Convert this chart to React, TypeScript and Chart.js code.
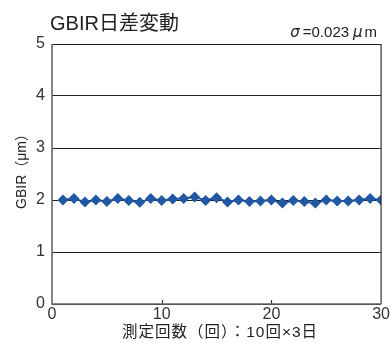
import React, { useEffect, useRef } from "react";
import { Chart, registerables } from "chart.js";

Chart.register(...registerables);

const runs = Array.from({ length: 30 }, (_, i) => i + 1);
const gbir = [
  2.0, 2.03, 1.96, 2.0, 1.97, 2.03, 1.99, 1.955, 2.03, 1.99,
  2.02, 2.03, 2.06, 1.99, 2.045, 1.96, 2.0, 1.97, 1.98, 2.0,
  1.94, 1.99, 1.97, 1.94, 2.0, 1.98, 1.98, 2.0, 2.03, 2.0,
];
const xTicks = [0, 10, 20, 30];
const titleText = "GBIR日差変動";
const sigmaText = "=0.023";
const yTitle = "GBIR（μm）";
const xTitle = "測定回数（回）：10回×3日";

const LATIN = "'Liberation Sans', 'Noto Sans CJK JP', sans-serif";

const textPlugin = {
  id: "texts",
  afterDraw(chart: any) {
    const { ctx, chartArea } = chart;
    const { left, right, top, bottom } = chartArea;
    ctx.save();
    // right border and inward x ticks
    ctx.strokeStyle = "#333";
    ctx.lineWidth = 1.2;
    ctx.beginPath();
    ctx.moveTo(right, top);
    ctx.lineTo(right, bottom);
    ctx.stroke();
    const xs = chart.scales.x;
    for (const t of [10, 20]) {
      const px = Math.round(xs.getPixelForValue(t)) + 0.5;
      ctx.beginPath();
      ctx.moveTo(px, bottom);
      ctx.lineTo(px, bottom - 4);
      ctx.stroke();
    }
    // left/bottom axis lines
    ctx.strokeStyle = "#666";
    ctx.lineWidth = 1.6;
    ctx.beginPath();
    ctx.moveTo(left, top);
    ctx.lineTo(left, bottom);
    ctx.lineTo(right, bottom);
    ctx.stroke();

    ctx.fillStyle = "#222";
    ctx.textBaseline = "middle";
    ctx.textAlign = "left";
    ctx.font = `20px ${LATIN}`;
    ctx.fillText(titleText, 50, 24);

    // sigma line, right aligned
    ctx.font = `15px ${LATIN}`;
    const mW = ctx.measureText("m").width;
    ctx.textAlign = "right";
    ctx.fillText("m", right - 4, 33);
    ctx.font = `italic 15px 'DejaVu Sans', sans-serif`;
    const muW = ctx.measureText("μ").width;
    ctx.fillText("μ", right - 4 - mW - 2, 33);
    ctx.font = `15px ${LATIN}`;
    const sW = ctx.measureText(sigmaText).width;
    ctx.fillText(sigmaText, right - 4 - mW - muW - 6, 33);
    ctx.font = `italic 15px 'DejaVu Sans', sans-serif`;
    ctx.fillText("σ", right - 4 - mW - muW - sW - 9, 33);

    // axis titles
    ctx.font = `15.5px ${LATIN}`;
    ctx.textAlign = "center";
    (ctx as any).letterSpacing = "1px";
    ctx.fillText(xTitle, 220, 333);
    (ctx as any).letterSpacing = "0px";
    ctx.translate(22, 168);
    ctx.rotate(-Math.PI / 2);
    ctx.font = `14px ${LATIN}`;
    ctx.fillText(yTitle, 0, 0);
    ctx.restore();
  },
};

export default function App() {
  const ref = useRef<HTMLCanvasElement>(null);
  useEffect(() => {
    if (!ref.current) return;
    const chart = new Chart(ref.current, {
      type: "line",
      data: {
        datasets: [
          {
            data: runs.map((r, i) => ({ x: r, y: gbir[i] })),
            borderColor: "#1f4f96",
            backgroundColor: "#2158a3",
            borderWidth: 2,
            pointStyle: "rectRot",
            pointRadius: 5.5,
            pointBorderWidth: 0,
            tension: 0,
          },
        ],
      },
      options: {
        animation: false,
        responsive: false,
        layout: { padding: { top: 44, right: 8, left: 0, bottom: 0 } },
        plugins: { legend: { display: false }, tooltip: { enabled: false } },
        scales: {
          x: {
            type: "linear",
            min: 0,
            max: 30,
            afterBuildTicks: (s: any) => {
              s.ticks = xTicks.map((v) => ({ value: v }));
            },
            afterFit: (s: any) => {
              s.height = 39;
            },
            grid: { display: false, drawTicks: false },
            border: { display: false },
            ticks: {
              color: "#333",
              font: { size: 16, family: LATIN },
              padding: 1,
              maxRotation: 0,
              callback: (v: any) => String(v),
            },
          },
          y: {
            min: 0,
            max: 5,
            afterFit: (s: any) => {
              s.width = 52;
            },
            grid: {
              color: "#222",
              lineWidth: 1,
              drawTicks: false,
            },
            border: { display: false },
            ticks: {
              stepSize: 1,
              color: "#333",
              font: { size: 16, family: LATIN },
              padding: 7,
            },
          },
        },
      },
      plugins: [textPlugin],
    });
    return () => chart.destroy();
  }, []);
  return (
    <div style={{ position: "fixed", left: 0, top: 0, width: 391, height: 343, background: "#fff" }}>
      <canvas ref={ref} width={391} height={343} style={{ width: 391, height: 343 }} />
    </div>
  );
}
